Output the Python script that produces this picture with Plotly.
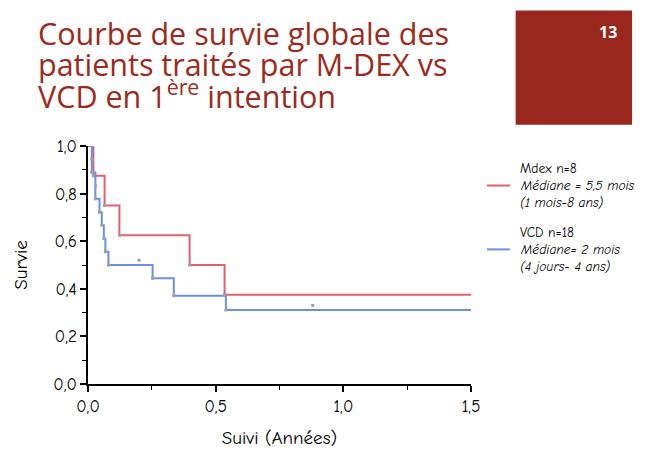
import plotly.graph_objects as go

# ---- data ----
mdex_t = [0.0, 0.021, 0.065, 0.123, 0.398, 0.535, 1.5]
mdex_s = [1.0, 0.875, 0.75, 0.625, 0.5, 0.375, 0.375]

vcd_t = [0.0, 0.015, 0.015, 0.029, 0.029, 0.045, 0.054, 0.062, 0.068, 0.080, 0.253, 0.336, 0.540, 1.5]
vcd_s = [1.0, 0.944, 0.889, 0.833, 0.778, 0.722, 0.667, 0.611, 0.556, 0.5, 0.444, 0.371, 0.311, 0.311]

stray_t = [0.20, 0.88]
stray_s = [0.52, 0.33]

x_ticks = [0.0, 0.5, 1.0, 1.5]
y_ticks = [0.0, 0.2, 0.4, 0.6, 0.8, 1.0]

title_lines = ["Courbe de survie globale des",
               "patients traités par M-DEX vs",
               "VCD en 1<sup>ère</sup> intention"]
legend_mdex = ["Mdex n=8", "<i>Médiane = 5,5 mois</i>", "<i>(1 mois-8 ans)</i>"]
legend_vcd = ["VCD n=18", "<i>Médiane= 2 mois</i>", "<i>(4 jours- 4 ans)</i>"]

RED = "#E2606D"
BLUE = "#6C8FE6"
DARK = "#9B2A20"
COMIC = "Comic Sans MS, Comic Neue, Open Sans, DejaVu Sans, sans-serif"
TITLEF = "Century Gothic, Open Sans, sans-serif"

# pixel geometry of the plot area
W, H = 650, 457
PL, PR, PT, PB = 87.5, 471.0, 146.0, 390.0


def px(x):
    return (x - PL) / (PR - PL)


def py(y):
    return (PB - y) / (PB - PT)


fig = go.Figure()
fig.add_trace(go.Scatter(x=mdex_t, y=mdex_s, mode="lines", line=dict(color=RED, width=2, shape="hv"),
                         showlegend=False, cliponaxis=False))
fig.add_trace(go.Scatter(x=vcd_t, y=vcd_s, mode="lines", line=dict(color=BLUE, width=2, shape="hv"),
                         showlegend=False, cliponaxis=False))
fig.add_trace(go.Scatter(x=mdex_t[1:-1], y=mdex_s[1:-1], mode="markers",
                         marker=dict(color="#A0A0A0", size=3, symbol="square"), showlegend=False))
fig.add_trace(go.Scatter(x=vcd_t[1:-1], y=vcd_s[1:-1], mode="markers",
                         marker=dict(color="#A0A0A0", size=3, symbol="square"), showlegend=False))
fig.add_trace(go.Scatter(x=stray_t, y=stray_s, mode="markers",
                         marker=dict(color="#A0A0A0", size=3, symbol="square"), showlegend=False))

axis_common = dict(showgrid=False, zeroline=False, showline=True, linecolor="black", linewidth=1.5,
                   ticks="outside", ticklen=6, tickwidth=1.5, tickcolor="black",
                   tickfont=dict(family=COMIC, size=17, color="black"),
                   minor=dict(ticks="outside", ticklen=4, tickwidth=1.2, tickcolor="black"))

fig.update_xaxes(range=[0, 1.5], tickvals=x_ticks, tickformat=".1f",
                 minor_dtick=0.25,
                 title=dict(text="Suivi (Années)", font=dict(family=COMIC, size=19, color="black"), standoff=16),
                 **axis_common)
fig.update_yaxes(range=[0, 1.0], tickvals=y_ticks, tickformat=".1f",
                 minor_dtick=0.1,
                 title=dict(text="Survie", font=dict(family=COMIC, size=19, color="black"), standoff=21),
                 **axis_common)

shapes = [
    dict(type="rect", xref="paper", yref="paper", x0=px(515.7), x1=px(632.3), y0=py(7), y1=py(124.3),
         fillcolor="#99271E", line=dict(width=0), layer="above"),
    dict(type="line", xref="paper", yref="paper", x0=px(487), x1=px(510), y0=py(186.5), y1=py(186.5),
         line=dict(color=RED, width=2)),
    dict(type="line", xref="paper", yref="paper", x0=px(487), x1=px(510), y0=py(252), y1=py(252),
         line=dict(color=BLUE, width=2)),
]

annotations = []
for i, t in enumerate(title_lines):
    annotations.append(dict(text=t, xref="paper", yref="paper", x=px(35), y=py(30 + 31.5 * i),
                            xanchor="left", yanchor="middle", showarrow=False,
                            font=dict(family=TITLEF, size=30.5, color=DARK)))
annotations.append(dict(text="<b>13</b>", xref="paper", yref="paper", x=px(608), y=py(29),
                        xanchor="center", yanchor="middle", showarrow=False,
                        font=dict(family="Open Sans, sans-serif", size=16, color="white")))
for i, t in enumerate(legend_mdex):
    annotations.append(dict(text=t, xref="paper", yref="paper", x=px(518), y=py(169 + 17.5 * i),
                            xanchor="left", yanchor="middle", showarrow=False,
                            font=dict(family=COMIC, size=13.5, color="black")))
for i, t in enumerate(legend_vcd):
    annotations.append(dict(text=t, xref="paper", yref="paper", x=px(518), y=py(234.5 + 17.5 * i),
                            xanchor="left", yanchor="middle", showarrow=False,
                            font=dict(family=COMIC, size=13.5, color="black")))

fig.update_layout(width=W, height=H, margin=dict(l=PL, r=W - PR, t=PT, b=H - PB),
                  paper_bgcolor="white", plot_bgcolor="white", separators=", ",
                  shapes=shapes, annotations=annotations, showlegend=False)

fig.write_html("out.html", config={"displayModeBar": False},
               post_script="document.body.style.margin='0';document.body.style.overflow='hidden';")
